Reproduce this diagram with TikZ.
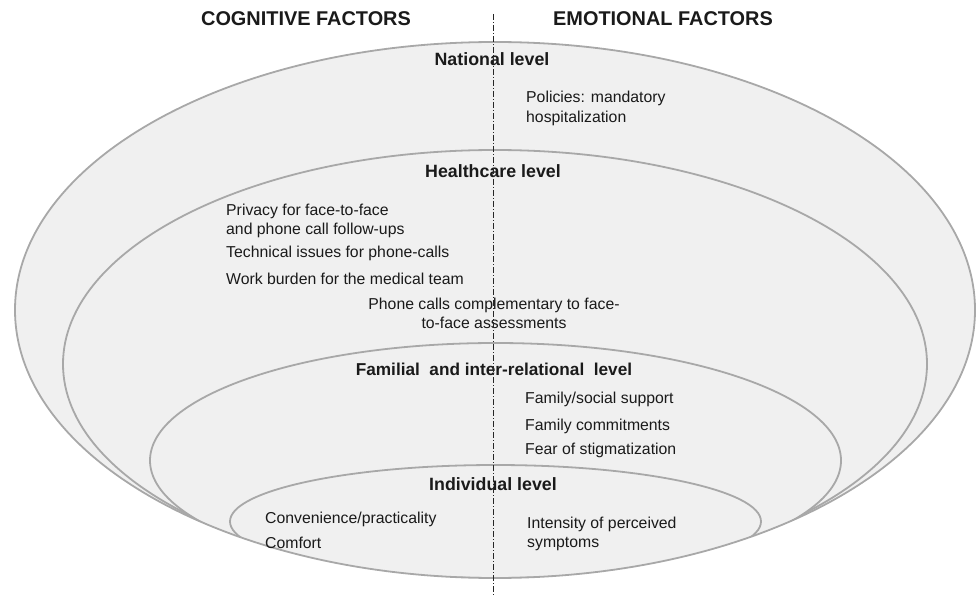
\documentclass[tikz,border=0pt]{standalone}
\usepackage{fontspec}
\setmainfont{Liberation Sans}
\definecolor{ringgray}{HTML}{A8A8A8}
\definecolor{ringfill}{HTML}{F0F0F0}
\definecolor{ink}{HTML}{1A1A1A}
\begin{document}
\begin{tikzpicture}[x=1pt,y=-1pt,
  ring/.style={draw=ringgray, line width=1.8pt, fill=ringfill},
  rimline/.style={draw=ringgray, line width=1.8pt},
  txt/.style={font=\fontsize{15.8}{18.5}\selectfont, text=ink, inner sep=0pt, anchor=base west},
  ctxt/.style={txt, anchor=base},
  lvl/.style={font=\fontsize{17.8}{20}\selectfont\bfseries, text=ink, inner sep=0pt, anchor=base},
  head/.style={font=\fontsize{19.9}{22}\selectfont\bfseries, text=ink, inner sep=0pt, anchor=base},
  divider/.style={line width=0.8pt, draw=black!85, dash pattern=on 6pt off 2pt on 1pt off 2pt}]
\useasboundingbox (0,0) rectangle (977,596);

% nested levels, all meeting at the bottom of the national ellipse
\fill[ringfill] (495,310) ellipse [x radius=480pt, y radius=268pt];
\begin{scope}
  \clip (495,310) ellipse [x radius=480pt, y radius=268pt];
  \draw[ring] (495,364) ellipse [x radius=432pt, y radius=214pt];
  \draw[ring] (495.5,460.5) ellipse [x radius=345.5pt, y radius=117.5pt];
  \draw[ring] (495.5,521.5) ellipse [x radius=265.5pt, y radius=56.5pt];
\end{scope}
\draw[rimline] (495,310) ellipse [x radius=480pt, y radius=268pt];

% column headings
\node[head] (hcog) at (306,26) {COGNITIVE FACTORS};
\node[head] (hemo) at (663,26) {EMOTIONAL FACTORS};

% national level
\node[lvl] (lnat) at (492,66) {National level};
\node[txt] (pol1) at (526,103) {Policies: mandatory};
\node[txt] (pol2) at (526,123) {hospitalization};

% healthcare level
\node[lvl] (lhc) at (493,178) {Healthcare level};
\node[txt] (hc1) at (226,216) {Privacy for face-to-face};
\node[txt] (hc2) at (226,234) {and phone call follow-ups};
\node[txt] (hc3) at (226,258) {Technical issues for phone-calls};
\node[txt] (hc4) at (226,284) {Work burden for the medical team};
\node[ctxt] (hc5) at (494,309) {Phone calls complementary to face-};
\node[ctxt] (hc6) at (494,328) {to-face assessments};

% familial level
\node[lvl, font=\fontsize{17.2}{20}\selectfont\bfseries] (lfam) at (494,375) {Familial\ \ and inter-relational\ \ level};
\node[txt] (fa1) at (525,403) {Family/social support};
\node[txt] (fa2) at (525,430) {Family commitments};
\node[txt] (fa3) at (525,454) {Fear of stigmatization};

% individual level
\node[lvl] (lind) at (493,490) {Individual level};
\node[txt] (in1) at (265,523) {Convenience/practicality};
\node[txt] (in2) at (265,548) {Comfort};
\node[txt] (in3) at (527,528) {Intensity of perceived};
\node[txt] (in4) at (527,547) {symptoms};

% cognitive / emotional divider
\coordinate (dtop) at (493,14);
\coordinate (dbot) at (493,596);
\draw[divider] (dtop) -- (dbot);
\end{tikzpicture}
\end{document}
